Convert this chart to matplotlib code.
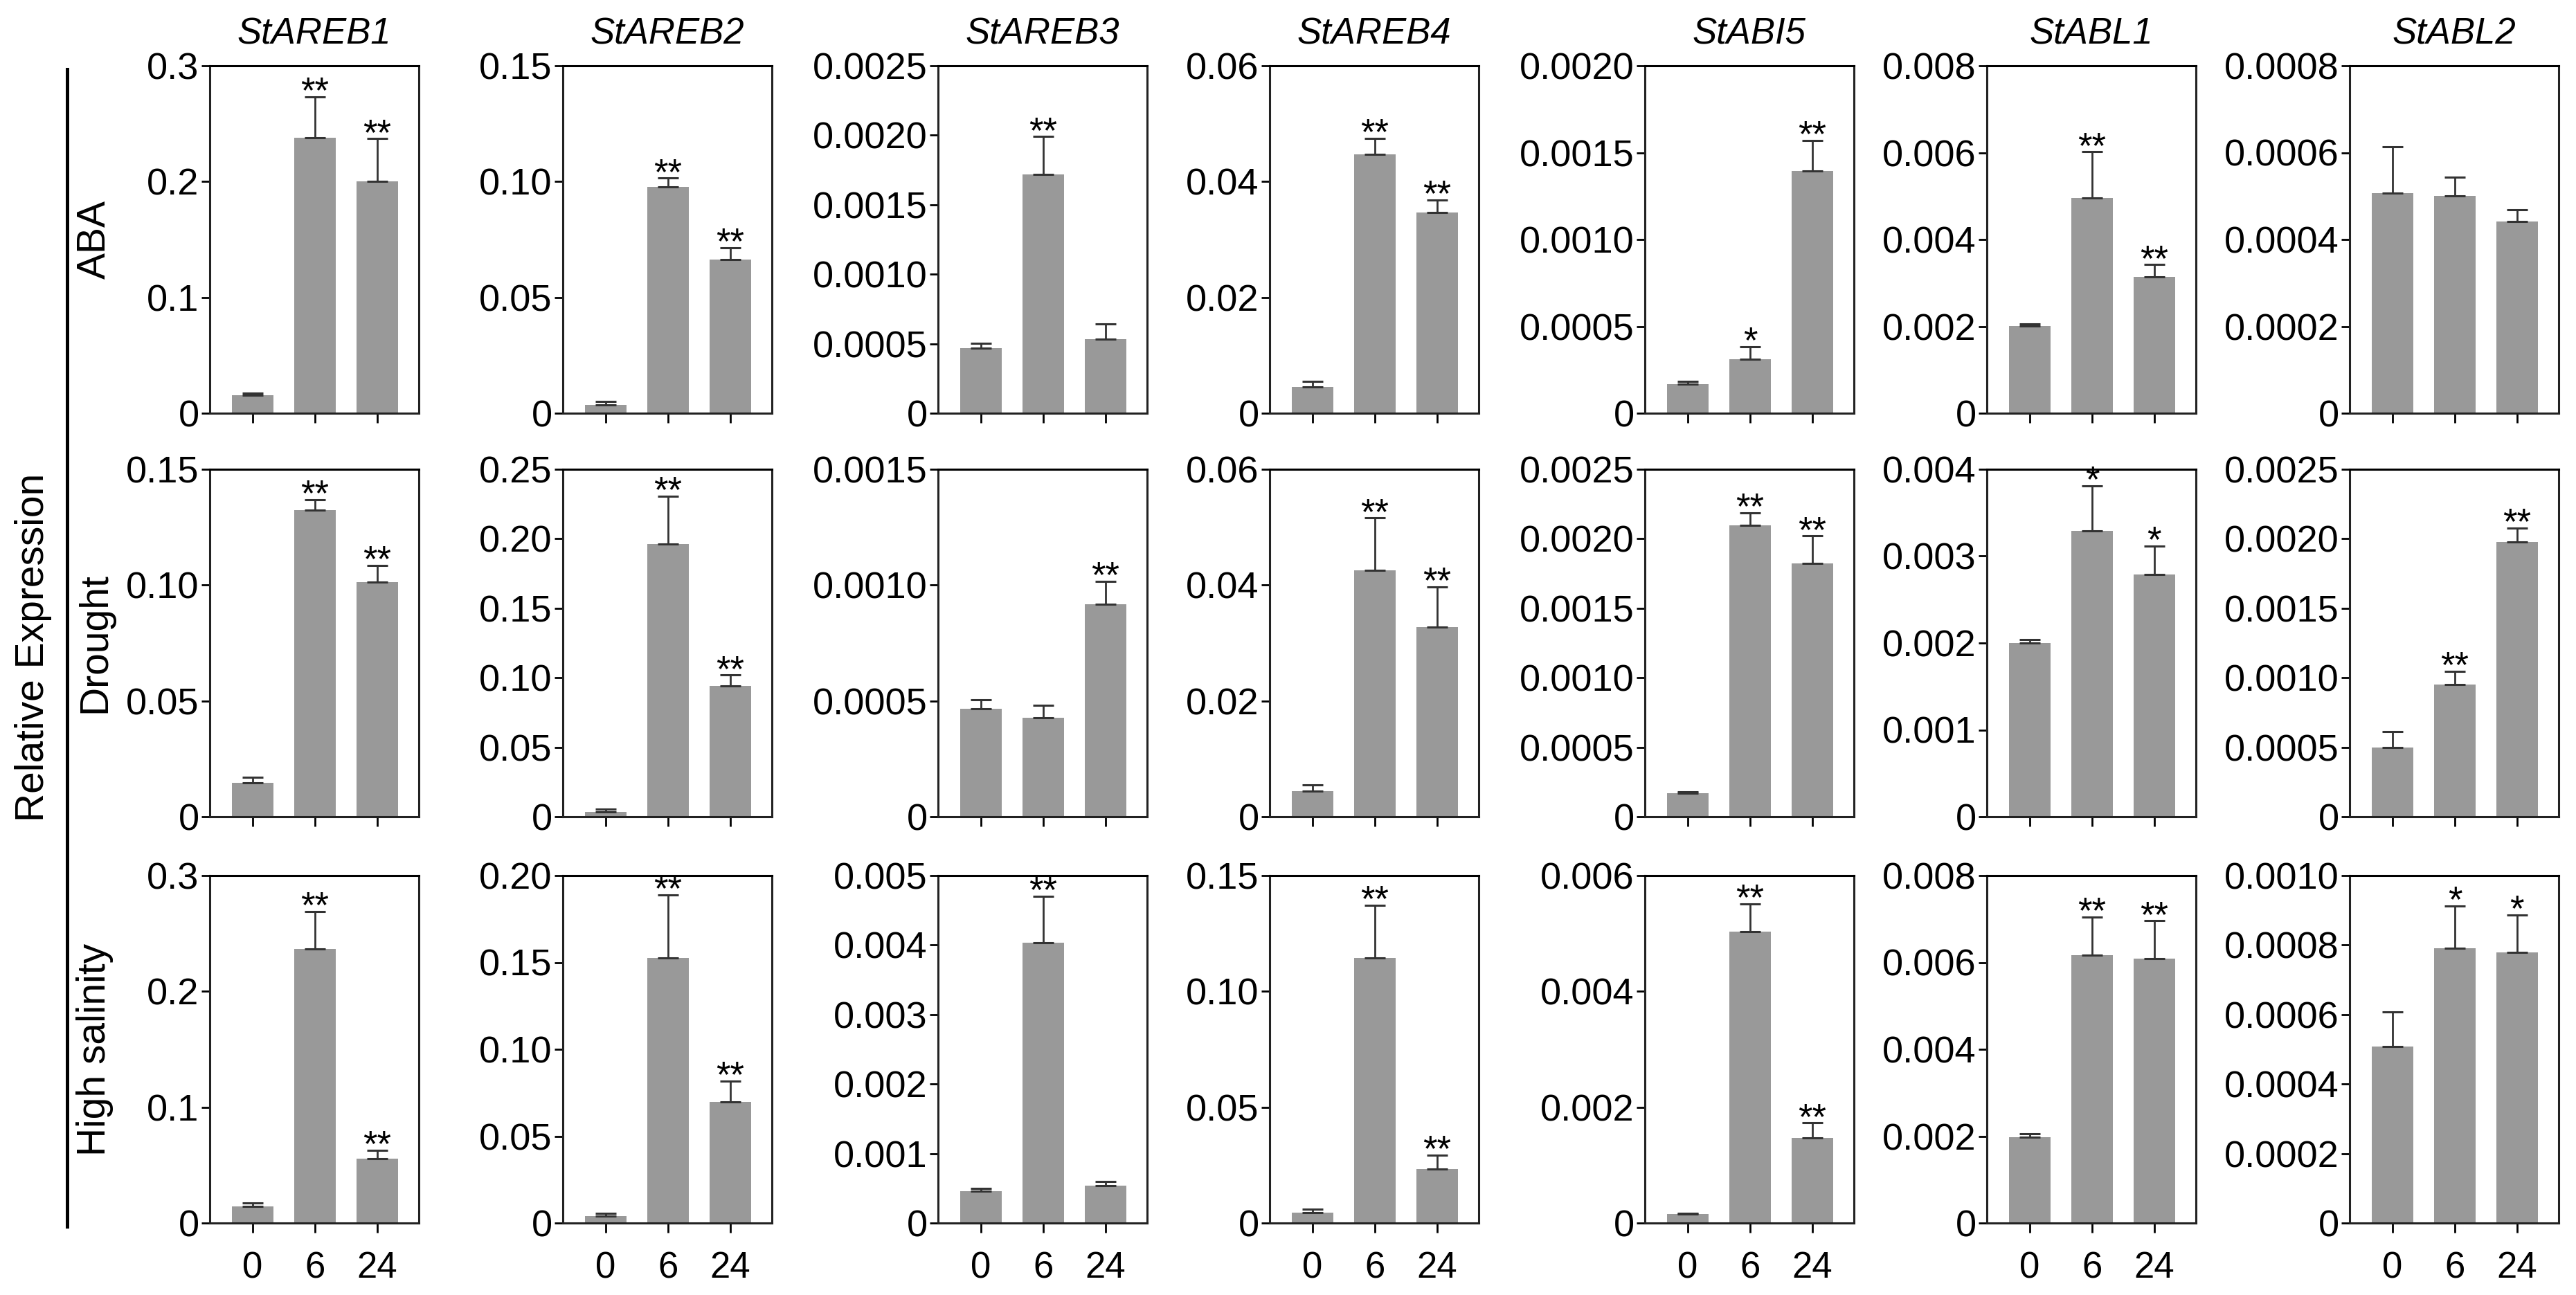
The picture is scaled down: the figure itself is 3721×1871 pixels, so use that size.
import numpy as np
import matplotlib
matplotlib.use('Agg')
import matplotlib.pyplot as plt

plt.rcParams['font.family'] = ['Liberation Sans', 'DejaVu Sans']

genes = ['StAREB1', 'StAREB2', 'StAREB3', 'StAREB4', 'StABI5', 'StABL1', 'StABL2']
treatments = ['ABA', 'Drought', 'High salinity']
hours = ['0', '6', '24']

# mean relative expression, one row per gene
aba_mean = [[0.0153, 0.238, 0.200],
            [0.0037, 0.0978, 0.0662],
            [0.000468, 0.001716, 0.000532],
            [0.00455, 0.0447, 0.0347],
            [0.000168, 0.000309, 0.001394],
            [0.00201, 0.00496, 0.003135],
            [0.000506, 0.0005, 0.000441]]
aba_err = [[0.002, 0.035, 0.037],
           [0.0013, 0.0037, 0.0053],
           [0.000037, 0.000274, 0.000108],
           [0.001, 0.0028, 0.0021],
           [0.000017, 0.000074, 0.000176],
           [0.00004, 0.00106, 0.000285],
           [0.000107, 0.000043, 0.000028]]
aba_sig = [['', '**', '**'], ['', '**', '**'], ['', '**', ''], ['', '**', '**'],
           ['', '*', '**'], ['', '**', '**'], ['', '', '']]

drought_mean = [[0.0146, 0.1325, 0.1014],
                [0.0035, 0.196, 0.094],
                [0.000467, 0.000426, 0.000917],
                [0.0044, 0.0425, 0.0327],
                [0.000168, 0.002096, 0.001824],
                [0.002003, 0.003287, 0.002785],
                [0.000499, 0.000952, 0.001978]]
drought_err = [[0.0023, 0.0044, 0.0071],
               [0.002, 0.0347, 0.0079],
               [0.000038, 0.000055, 0.0001],
               [0.00114, 0.0091, 0.007],
               [0.000009, 0.00009, 0.000196],
               [0.000037, 0.000521, 0.000329],
               [0.000112, 0.000093, 0.000098]]
drought_sig = [['', '**', '**'], ['', '**', '**'], ['', '', '**'], ['', '**', '**'],
               ['', '**', '**'], ['', '*', '*'], ['', '**', '**']]

salt_mean = [[0.01415, 0.2366, 0.0554],
             [0.0041, 0.1524, 0.0699],
             [0.000455, 0.004037, 0.000537],
             [0.0045, 0.1143, 0.0234],
             [0.000156, 0.00503, 0.00147],
             [0.00198, 0.00616, 0.00608],
             [0.000507, 0.00079, 0.000779]]
salt_err = [[0.003, 0.0324, 0.0073],
            [0.0016, 0.0366, 0.0119],
            [0.000045, 0.000663, 0.000063],
            [0.0016, 0.0229, 0.0059],
            [0.000014, 0.00048, 0.00026],
            [0.00008, 0.00088, 0.00088],
            [0.000101, 0.000122, 0.000107]]
salt_sig = [['', '**', '**'], ['', '**', '**'], ['', '**', ''], ['', '**', '**'],
            ['', '**', '**'], ['', '**', '**'], ['', '*', '*']]

# y axis: top, tick step, decimals
aba_ymax = [0.3, 0.15, 0.0025, 0.06, 0.0020, 0.008, 0.0008]
aba_step = [0.1, 0.05, 0.0005, 0.02, 0.0005, 0.002, 0.0002]
aba_dec = [1, 2, 4, 2, 4, 3, 4]
drought_ymax = [0.15, 0.25, 0.0015, 0.06, 0.0025, 0.004, 0.0025]
drought_step = [0.05, 0.05, 0.0005, 0.02, 0.0005, 0.001, 0.0005]
drought_dec = [2, 2, 4, 2, 4, 3, 4]
salt_ymax = [0.3, 0.20, 0.005, 0.15, 0.006, 0.008, 0.0010]
salt_step = [0.1, 0.05, 0.001, 0.05, 0.002, 0.002, 0.0002]
salt_dec = [1, 2, 3, 2, 3, 3, 4]

rows = [
    (aba_mean, aba_err, aba_sig, aba_ymax, aba_step, aba_dec),
    (drought_mean, drought_err, drought_sig, drought_ymax, drought_step, drought_dec),
    (salt_mean, salt_err, salt_sig, salt_ymax, salt_step, salt_dec),
]

W, H = 3721, 1871
fig = plt.figure(figsize=(W / 100, H / 100), dpi=100)

col_left = [303, 813, 1355, 1834, 2376, 2870, 3394]
row_top = [95, 678, 1265]
ax_w, ax_h = 302, 502

bar_color = '#999999'
x = np.arange(3)

for r, (means, errs, sigs, ymaxs, steps, decs) in enumerate(rows):
    for c in range(7):
        left = col_left[c] / W
        bottom = 1 - (row_top[r] + ax_h) / H
        ax = fig.add_axes([left, bottom, ax_w / W, ax_h / H])
        ax.bar(x, means[c], width=0.67, color=bar_color, zorder=2)
        ax.errorbar(x, means[c], yerr=[np.zeros(3), errs[c]], fmt='none',
                    ecolor='#333333', elinewidth=2, capsize=11, capthick=2.2, zorder=3)
        # significance marks sit just above the cap
        for i in range(3):
            if sigs[c][i]:
                ax.annotate(sigs[c][i], (x[i], means[c][i] + errs[c][i]),
                            xytext=(0, -6), textcoords='offset points',
                            ha='center', va='baseline', fontsize=38, zorder=5,
                            annotation_clip=False)
        ax.set_xlim(-0.69, 2.67)
        ax.set_ylim(0, ymaxs[c])
        n = int(round(ymaxs[c] / steps[c]))
        ticks = [k * steps[c] for k in range(n + 1)]
        labels = ['0'] + ['%.*f' % (decs[c], t) for t in ticks[1:]]
        ax.set_yticks(ticks)
        ax.set_yticklabels(labels)
        ax.set_xticks(x)
        if r == 2:
            ax.set_xticklabels(hours)
        else:
            ax.set_xticklabels([])
        ax.tick_params(axis='y', length=9, width=2, pad=2, labelsize=39, direction='out')
        ax.tick_params(axis='x', length=10, width=2, pad=19, labelsize=38, direction='out')
        for name, sp in ax.spines.items():
            sp.set_linewidth(2.2)
            sp.set_color('#222222')
        ax.spines['top'].set_color('black')
        if r == 0:
            ax.set_title(genes[c], fontsize=38, style='italic', pad=23)

# row labels
for r in range(3):
    yc = 1 - (row_top[r] + ax_h / 2) / H
    fig.text(137 / W, yc, treatments[r], rotation=90, fontsize=41,
             ha='center', va='center')

fig.text(48 / W, 1 - 935 / H, 'Relative Expression', rotation=90, fontsize=41,
         ha='center', va='center')
fig.add_artist(plt.Line2D([97 / W, 97 / W], [1 - 100 / H, 1 - 1772 / H],
                          color='black', linewidth=3.6))

fig.savefig('out.png', dpi=100)
